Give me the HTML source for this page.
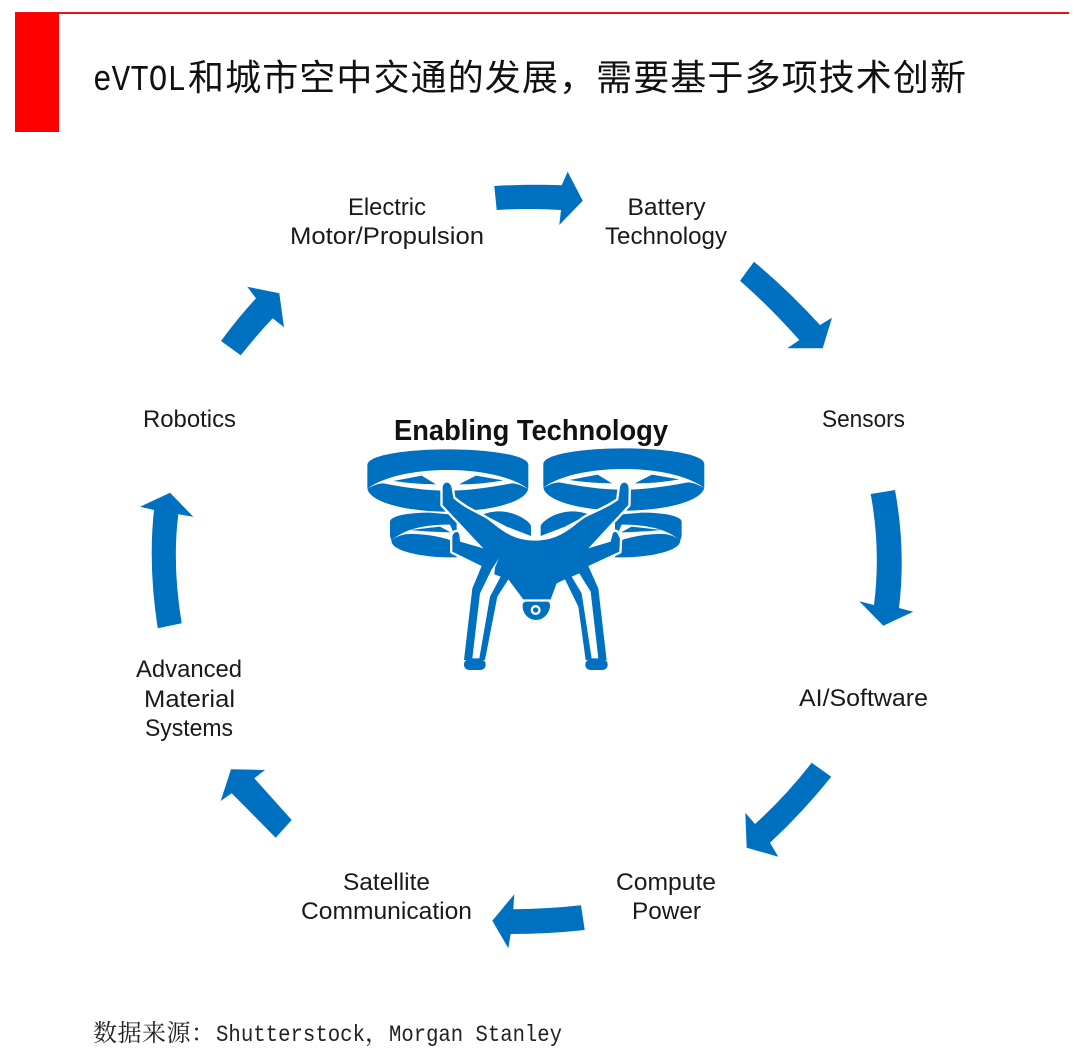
<!DOCTYPE html>
<html><head><meta charset="utf-8"><style>
html,body{margin:0;padding:0;background:#fff;width:1080px;height:1053px;overflow:hidden}
svg{display:block}
.l{font-family:"Liberation Sans",sans-serif;font-size:24px;fill:#1a1a1a}
</style></head><body>
<svg width="1080" height="1053" viewBox="0 0 1080 1053" xmlns="http://www.w3.org/2000/svg">
<rect x="15" y="12" width="1054" height="2" fill="#f01010"/>
<rect x="15" y="13" width="44" height="119" fill="#ff0000"/>

<text x="93" y="90" font-size="36" fill="#111" font-family="'Liberation Mono',monospace" textLength="93" lengthAdjust="spacingAndGlyphs">eVTOL</text>
<text x="188" y="90" font-size="36" letter-spacing="1.1" fill="#111" font-family="'Noto Sans CJK SC',sans-serif">和城市空中交通的发展，需要基于多项技术创新</text>

<g fill="#0070C0">
<path d="M494.3,186 Q530,184 561.7,185.3 L567.7,171.7 L582.7,200.7 L559.3,225 L561,210 Q530,208 496.7,210 Z"/>
<path d="M754,261.7 Q788,290 820,325 L832,317.7 L822.7,348.3 L787.3,348.3 L799.3,340 Q770,307 740,280.7 Z"/>
<path d="M870.7,494 L895,490 Q906,550 899,608 L913.3,611.7 L883.3,625.7 L859.3,601.3 L874,605 Q881,550 870.7,494 Z"/>
<path d="M811.7,762.7 L831.3,776.7 Q803,812 770,842.7 L778.3,856.7 L746.7,847.7 L745.3,812.7 L755,824 Q785,797 811.7,762.7 Z"/>
<path d="M581,905.3 L584.7,930 Q548,934 510.7,934 L508.3,948.3 L492.3,920.7 L514.3,894.3 L513.3,909.3 Q548,909 581,905.3 Z"/>
<path d="M291.7,820 L275.7,837.7 L231.7,793.3 L220.7,801 L231,769.3 L265,770 L254.3,778.3 Z"/>
<path d="M181.7,623.3 L157.7,628.3 Q148,565 154,510 L140,506.7 L170,492.7 L193.3,516.7 L178.3,514.3 Q172,565 181.7,623.3 Z"/>
<path d="M221,341 L240.7,355.3 Q256,336 272.7,318.3 L284,327.3 L279.3,293.3 L247.3,286.7 L256,298.3 Q237,319 221,341 Z"/>
</g>

<text class="l" x="348" y="215" textLength="78" lengthAdjust="spacingAndGlyphs">Electric</text>
<text class="l" x="290" y="244" textLength="194" lengthAdjust="spacingAndGlyphs">Motor/Propulsion</text>
<text class="l" x="627.5" y="215" textLength="78" lengthAdjust="spacingAndGlyphs">Battery</text>
<text class="l" x="605" y="244" textLength="122" lengthAdjust="spacingAndGlyphs">Technology</text>
<text class="l" x="822" y="427" textLength="83" lengthAdjust="spacingAndGlyphs">Sensors</text>
<text class="l" x="143" y="427" textLength="93" lengthAdjust="spacingAndGlyphs">Robotics</text>
<text class="l" x="799" y="706" textLength="129" lengthAdjust="spacingAndGlyphs">AI/Software</text>
<text class="l" x="616" y="890" textLength="100" lengthAdjust="spacingAndGlyphs">Compute</text>
<text class="l" x="632" y="919" textLength="69" lengthAdjust="spacingAndGlyphs">Power</text>
<text class="l" x="343" y="890" textLength="87" lengthAdjust="spacingAndGlyphs">Satellite</text>
<text class="l" x="301" y="919" textLength="171" lengthAdjust="spacingAndGlyphs">Communication</text>
<text class="l" x="136" y="677" textLength="106" lengthAdjust="spacingAndGlyphs">Advanced</text>
<text class="l" x="144" y="707" textLength="91" lengthAdjust="spacingAndGlyphs">Material</text>
<text class="l" x="145" y="736" textLength="88" lengthAdjust="spacingAndGlyphs">Systems</text>
<text x="394" y="440" font-family="'Liberation Sans',sans-serif" font-weight="bold" font-size="29" fill="#111" textLength="274" lengthAdjust="spacingAndGlyphs">Enabling Technology</text>

<!-- rotors -->
<g transform="translate(350,400) scale(0.3333)">
  <defs>
    <g id="rf">
      <path fill="#0070C0" d="M52,195 C52,165 170,148 293,148 C416,148 535,165 535,195 L535,262 C535,305 420,335 293,335 C166,335 52,305 52,262 Z"/>
      <path fill="#fff" d="M50,268 C100,228 200,210 293,210 C386,210 486,228 536,268 C520,258 500,250 486,250 C420,262 360,272 293,272 C226,272 166,262 100,250 C85,250 65,258 50,268 Z"/>
      <path fill="#0070C0" d="M130,243 L215,227 L258,253 Q190,252 130,243 Z M327,253 L378,227 L460,241 Q395,253 327,253 Z"/>
    </g>
    <g id="rr">
      <path fill="#0070C0" d="M120,365 C120,350 165,338 240,338 L320,345 L320,472 C210,475 125,450 125,425 L120,408 Z"/>
      <path fill="#fff" d="M122,424 C165,385 225,374 300,374 L325,430 C270,405 200,400 165,403 C150,405 135,412 122,424 Z"/>
      <path fill="#0070C0" d="M180,390 L270,380 L302,397 Q240,396 180,390 Z"/>
      <path fill="#0070C0" d="M400,343 C430,332 470,328 515,352 C532,362 543,372 543,380 L543,408 L470,380 Z"/>
    </g>
  </defs>
  <use href="#rr"/>
  <use href="#rr" transform="translate(1115,0) scale(-1,1)"/>
  <use href="#rf"/>
  <use href="#rf" transform="translate(528,-3)"/>
</g>

<!-- airframe -->
<g transform="translate(440,480) scale(0.3333)">
  <path fill="#0070C0" stroke="#fff" stroke-width="14" stroke-linejoin="round" paint-order="stroke" d="M20,8 C28,8 33,15 35,25 L40,55 C75,85 105,97 135,113 C170,135 205,182 285,182 C365,182 400,135 435,113 C465,97 500,85 535,60 L540,22 C542,12 548,8 553,8 C560,8 566,15 566,28 L565,75 L445,205 L512,185 L518,162 C520,155 528,153 532,160 L540,175 L538,215 L445,258 L475,325 L500,540 L437,540 L415,380 L375,298 L350,310 L332,358 L250,358 L205,298 L172,350 L135,540 L72,540 L97,325 L125,258 L37,215 L37,170 C40,155 55,150 58,165 L60,185 L130,205 L8,75 L8,25 C8,15 13,8 20,8 Z"/>
  <rect x="72" y="538" width="65" height="32" rx="15" fill="#0070C0"/>
  <rect x="436" y="538" width="67" height="32" rx="15" fill="#0070C0"/>
  <path fill="#fff" d="M177,235 L165,262 L163,283 L182,290 L150,350 L118,535 L97,535 L120,340 L155,268 Z"/>
  <path fill="#fff" d="M395,290 L418,280 L452,335 L475,535 L455,535 L425,340 Z"/>
  <path fill="#0070C0" d="M248,374 Q250,365 260,365 L320,365 Q330,365 330,375 C330,400 310,420 288,420 C265,420 246,400 248,374 Z"/>
  <circle cx="287" cy="390" r="15" fill="#fff"/>
  <circle cx="287" cy="390" r="8" fill="#0070C0"/>
</g>

<text x="93" y="1041" font-size="24" letter-spacing="0.5" fill="#222" font-family="'Noto Serif CJK SC',serif">数据来源：</text>
<text x="216" y="1041" font-size="23" fill="#222" font-family="'Liberation Mono',monospace" textLength="149" lengthAdjust="spacingAndGlyphs">Shutterstock</text>
<text x="365" y="1041" font-size="24" fill="#222" font-family="'Noto Serif CJK SC',serif">，</text>
<text x="389" y="1041" font-size="23" fill="#222" font-family="'Liberation Mono',monospace" textLength="173" lengthAdjust="spacingAndGlyphs">Morgan Stanley</text>
</svg>
</body></html>
